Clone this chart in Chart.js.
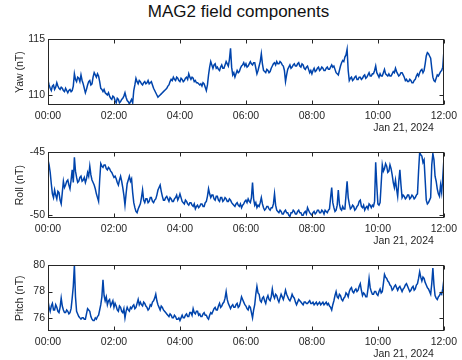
<!DOCTYPE html>
<html>
<head>
<meta charset="utf-8">
<script src="https://cdn.jsdelivr.net/npm/chart.js@4.4.1/dist/chart.umd.min.js"></script>
<style>
  html, body { margin: 0; padding: 0; background: #fff; width: 462px; height: 360px; overflow: hidden; }
  #title { position: absolute; left: 238.5px; top: 2px; transform: translateX(-50%); white-space: nowrap;
           font: 17px "Liberation Sans", Arial, sans-serif; color: #111; }
  canvas { position: absolute; left: 0; }
</style>
</head>
<body>
<div id="title">MAG2 field components</div>
<canvas id="c1" width="462" height="106" style="top:30px"></canvas>
<canvas id="c2" width="462" height="106" style="top:143px"></canvas>
<canvas id="c3" width="462" height="106" style="top:256px"></canvas>
<script>
// ---- data (sampled every 2 minutes, 00:00 .. 12:00; one row per hour) ----
const sampleMinutes = 2;
const timeTicks = [0, 2, 4, 6, 8, 10, 12];
const timeTickLabels = ['00:00', '02:00', '04:00', '06:00', '08:00', '10:00', '12:00'];
const dateLabel = 'Jan 21, 2024';

const yaw = [
111.3,110.9,110.6,110.4,110.8,110.9,110.5,110.7,111.1,110.8,110.6,110.5,110.7,110.6,110.4,110.3,110.6,110.4,110.2,110.4,110.5,110.3,110.4,110.8,111.9,111.4,111.2,111.6,111.5,111.2,
111.8,111.3,111.0,110.6,110.2,110.5,110.9,111.2,111.3,110.9,111.0,111.6,112.0,111.8,111.6,111.9,111.7,111.2,110.6,110.5,110.3,110.5,110.2,110.1,110.0,110.2,109.9,109.7,109.6,109.9,
109.8,109.5,109.3,109.7,109.6,109.3,109.4,109.6,109.7,109.9,110.2,109.8,109.5,109.4,109.2,109.4,109.6,109.3,110.4,110.9,111.5,111.2,111.0,111.3,111.2,111.0,110.9,111.1,111.2,111.0,
111.1,111.3,111.0,111.1,111.2,110.9,110.6,110.4,110.2,110.0,109.8,109.9,110.0,110.1,110.2,110.3,110.4,110.5,110.6,110.8,110.9,111.2,111.4,111.3,111.6,111.4,111.3,111.6,111.5,111.3,
111.2,111.5,111.4,111.2,111.3,111.5,111.6,111.4,111.9,111.6,111.4,111.6,111.5,111.2,111.3,111.1,111.1,111.0,110.9,111.0,110.8,111.1,111.0,110.7,110.4,110.9,111.8,112.5,113.0,112.7,
112.4,112.7,112.8,112.4,112.5,112.3,112.2,112.5,112.7,112.4,112.4,112.7,113.0,112.8,112.6,113.2,114.2,112.5,111.8,112.0,111.6,111.9,112.2,112.0,112.1,112.4,112.6,112.7,112.9,112.6,
112.8,112.5,112.6,112.8,113.0,112.8,112.7,112.9,112.9,112.4,111.9,112.2,112.6,113.0,113.7,112.8,112.2,112.1,112.0,112.3,112.2,112.0,112.1,112.4,112.6,112.8,112.9,112.7,113.0,112.8,
112.8,113.0,112.9,112.7,112.6,112.2,111.2,111.8,112.3,112.5,112.7,112.4,112.5,112.7,112.8,112.6,112.6,112.8,112.9,112.6,112.5,112.8,112.7,112.4,112.3,112.5,112.6,112.3,112.0,112.2,
111.9,112.2,112.4,112.1,112.2,112.4,112.5,112.2,112.3,112.5,112.4,112.2,112.2,112.4,112.5,112.3,112.3,112.5,112.7,112.5,112.6,112.3,112.0,111.9,111.8,112.2,112.6,112.9,113.1,113.0,
113.4,113.6,114.1,112.2,111.3,111.5,111.6,111.3,111.4,111.6,111.7,111.4,111.4,111.6,111.6,111.4,111.5,111.7,111.8,111.5,111.6,111.8,112.0,111.7,111.7,111.9,111.9,112.2,112.6,112.0,
111.8,111.6,111.9,111.7,111.7,112.0,112.3,111.9,111.8,111.7,111.9,111.7,111.7,111.9,112.1,112.0,112.4,112.1,111.9,111.7,111.8,112.0,112.0,111.8,111.6,111.3,111.4,111.2,111.2,111.4,
111.3,111.1,111.1,111.3,111.4,111.7,111.9,111.7,112.0,112.2,112.3,112.0,112.2,112.8,113.5,113.8,113.7,113.5,113.3,112.4,111.6,111.3,111.2,111.5,111.8,111.7,111.9,112.1,112.2,112.5,
113.9];

const roll = [
-45.6,-46.0,-46.6,-47.5,-48.3,-48.6,-48.0,-48.4,-48.7,-48.1,-48.2,-48.8,-49.1,-48.2,-47.3,-47.8,-47.6,-47.3,-47.2,-47.6,-47.9,-47.2,-46.4,-47.4,-45.4,-46.5,-47.0,-47.4,-47.3,-47.0,
-46.9,-47.3,-47.2,-47.0,-47.4,-47.1,-46.6,-46.9,-46.1,-46.8,-47.2,-47.4,-47.6,-47.9,-48.3,-48.6,-48.9,-47.2,-45.9,-46.1,-46.2,-46.0,-46.0,-46.3,-46.4,-46.2,-46.3,-46.5,-46.6,-46.8,
-47.0,-46.9,-47.1,-47.4,-47.6,-47.2,-46.9,-47.3,-47.8,-48.4,-49.2,-48.3,-47.5,-47.2,-46.9,-47.3,-47.1,-48.2,-49.0,-49.4,-49.7,-49.8,-49.5,-49.3,-49.1,-48.6,-48.0,-48.8,-49.0,-48.7,
-48.7,-49.0,-48.9,-48.6,-48.6,-48.9,-49.0,-48.8,-48.7,-48.4,-48.0,-47.8,-47.6,-48.1,-48.5,-48.8,-48.8,-48.6,-48.5,-48.7,-48.9,-48.6,-48.7,-48.9,-48.9,-48.7,-48.6,-48.4,-48.8,-48.6,
-48.3,-48.6,-48.9,-49.0,-49.1,-48.8,-48.9,-49.1,-49.2,-49.0,-49.0,-49.2,-49.3,-49.1,-49.5,-49.3,-49.2,-49.4,-49.3,-49.1,-49.1,-49.3,-49.3,-49.0,-48.9,-48.5,-47.9,-48.3,-48.6,-48.4,
-48.4,-48.7,-48.8,-48.5,-48.5,-48.8,-48.9,-48.6,-48.6,-48.9,-48.8,-48.6,-48.7,-48.9,-48.9,-48.7,-48.8,-49.0,-49.1,-49.2,-49.3,-49.1,-49.0,-49.2,-49.3,-49.1,-49.4,-49.2,-49.1,-48.9,
-48.8,-49.0,-48.7,-48.9,-49.0,-48.6,-47.4,-48.7,-49.2,-49.0,-49.4,-49.2,-49.3,-49.0,-48.6,-49.1,-49.4,-49.6,-49.5,-49.3,-49.3,-49.5,-49.6,-49.4,-49.4,-49.1,-48.3,-49.2,-49.6,-49.7,
-49.8,-49.6,-49.7,-49.9,-49.9,-49.7,-49.6,-49.8,-49.8,-50.0,-50.1,-49.8,-49.8,-49.6,-49.7,-49.9,-49.9,-49.7,-49.6,-49.8,-49.8,-50.0,-50.0,-49.8,-49.7,-49.9,-49.4,-49.6,-49.8,-49.9,
-50.0,-49.8,-49.7,-49.9,-49.8,-49.6,-49.6,-49.8,-49.8,-49.6,-49.7,-49.9,-49.6,-49.7,-49.8,-49.6,-49.5,-48.6,-47.8,-49.0,-49.4,-49.7,-49.6,-49.2,-48.0,-49.1,-49.5,-49.6,-49.3,-49.5,
-49.5,-48.4,-47.3,-48.6,-49.1,-49.5,-49.4,-49.2,-49.3,-49.6,-49.5,-49.3,-49.2,-48.9,-48.8,-49.3,-49.4,-49.2,-49.6,-49.4,-49.3,-49.5,-49.1,-49.2,-49.4,-49.2,-49.3,-48.9,-45.8,-47.6,
-49.1,-49.2,-49.0,-47.5,-46.0,-46.5,-46.3,-45.9,-46.1,-46.6,-46.5,-46.0,-46.3,-46.8,-47.4,-47.8,-47.2,-47.9,-48.5,-47.3,-46.4,-47.6,-48.6,-48.4,-48.5,-48.7,-48.6,-48.4,-48.4,-48.7,
-48.6,-48.4,-48.5,-48.7,-48.6,-48.4,-48.3,-46.5,-45.0,-45.2,-45.3,-45.8,-45.6,-47.2,-48.8,-49.1,-49.0,-48.8,-48.6,-46.0,-45.1,-45.6,-46.9,-47.3,-47.9,-48.3,-48.5,-47.6,-48.2,-47.0,
-45.6];

const pitch = [
77.3,76.8,76.5,76.9,77.1,76.6,76.6,77.0,76.8,76.5,76.4,76.8,77.5,76.9,76.6,76.4,76.4,76.6,76.5,76.3,76.4,76.7,77.5,78.4,80.0,77.6,76.5,76.3,76.1,76.0,
75.9,76.0,76.0,75.9,75.9,76.3,76.7,76.6,76.5,76.1,75.9,75.8,75.8,76.0,75.9,76.1,76.2,76.6,77.0,77.6,78.9,77.7,77.3,77.6,77.0,77.3,77.4,76.9,77.1,77.3,
76.8,77.1,76.9,76.6,76.5,76.9,76.8,76.5,76.4,76.7,76.0,76.5,76.8,76.6,76.5,76.8,76.7,76.9,77.0,76.7,76.8,77.1,77.4,77.0,77.2,77.0,76.9,77.2,77.1,76.9,
76.8,76.6,76.7,77.0,76.9,77.2,77.3,77.5,77.8,77.3,77.0,76.8,76.6,76.9,76.8,76.6,76.5,76.4,76.3,76.2,76.1,76.3,76.2,76.0,76.0,76.2,76.1,75.9,75.9,76.0,
75.8,76.0,76.2,76.0,76.0,76.2,76.3,76.1,76.1,76.4,76.4,76.2,76.7,76.4,76.3,76.5,76.5,76.2,76.3,76.1,76.1,76.3,76.4,76.2,76.2,76.0,75.9,76.2,76.4,76.3,
76.5,76.7,76.8,76.6,76.6,76.9,77.1,76.8,76.9,77.1,77.2,77.5,78.0,77.4,77.1,76.9,76.7,76.9,77.0,76.8,76.8,77.0,77.1,76.8,76.9,77.2,77.6,77.4,77.2,77.0,
76.9,76.7,76.6,76.9,76.8,76.4,76.0,76.6,77.0,77.8,78.4,77.9,77.8,77.3,77.2,77.5,77.6,77.3,77.1,77.5,77.7,77.4,77.3,77.6,78.2,77.7,77.5,77.8,77.7,77.4,
77.2,77.5,77.8,77.6,77.4,77.7,78.1,77.8,77.6,77.4,77.3,77.5,77.8,77.6,77.5,77.2,77.0,77.2,77.4,77.3,77.2,77.1,77.0,77.2,77.2,77.1,77.1,77.2,77.3,77.1,
77.1,77.2,77.0,77.1,77.2,77.0,77.1,77.2,77.0,77.1,77.2,77.0,77.1,77.2,77.0,77.1,76.9,76.8,76.6,77.0,77.3,77.7,78.0,77.6,77.5,77.8,77.7,77.4,77.3,77.5,
77.6,77.9,77.8,77.6,78.0,78.2,78.3,78.0,77.9,78.1,78.2,78.0,78.1,78.4,78.6,78.1,77.7,77.9,77.8,77.6,77.6,78.2,79.0,78.3,78.0,77.8,77.8,78.0,78.0,77.8,
77.7,78.0,78.2,77.9,78.0,78.6,79.3,79.1,79.0,78.8,78.7,78.5,78.4,78.1,78.2,78.4,78.5,78.3,78.1,78.3,78.4,78.2,78.0,78.2,78.3,78.5,78.6,78.4,78.2,78.0,
78.1,78.3,78.4,78.1,78.2,78.5,78.6,79.0,79.5,79.1,78.8,79.1,79.0,78.7,78.5,78.3,78.2,78.0,77.8,78.6,79.8,78.5,77.7,77.5,77.4,77.6,77.7,77.9,77.8,78.2,
78.9];

const yawTicks = [110, 115];
const rollTicks = [-50, -45];
const pitchTicks = [76, 78, 80];

// ---- drawing ----
const FONT = '"Liberation Sans", Arial, sans-serif';
const INK = '#262626';
const LINE = 'rgb(0,68,172)';

const boxTicks = {
  id: 'boxTicks',
  afterDraw(chart, args, opts) {
    const { ctx, chartArea: a, scales: { x, y } } = chart;
    ctx.save();
    ctx.strokeStyle = INK;
    ctx.lineWidth = 1;
    const L = Math.round(a.left) + 0.5, R = Math.round(a.right) - 0.5;
    const T = Math.round(a.top) + 0.5, B = Math.round(a.bottom) - 0.5;
    ctx.strokeRect(L, T, R - L, B - T);
    ctx.beginPath();
    x.ticks.forEach(t => {
      const px = Math.round(x.getPixelForValue(t.value)) + 0.5;
      ctx.moveTo(px, B); ctx.lineTo(px, B - 4);
      ctx.moveTo(px, T); ctx.lineTo(px, T + 4);
    });
    y.ticks.forEach(t => {
      const py = Math.round(y.getPixelForValue(t.value)) + 0.5;
      ctx.moveTo(L, py); ctx.lineTo(L + 4, py);
      ctx.moveTo(R, py); ctx.lineTo(R - 4, py);
    });
    ctx.stroke();
    ctx.fillStyle = INK;
    ctx.font = '10.5px ' + FONT;
    ctx.textAlign = 'right';
    ctx.textBaseline = 'middle';
    ctx.fillText(dateLabel, a.right - 10, a.bottom + 23.5);
    ctx.translate(20.5, (a.top + a.bottom) / 2);
    ctx.rotate(-Math.PI / 2);
    ctx.textAlign = 'center';
    ctx.fillText(opts.label, 0, 0);
    ctx.restore();
  }
};

function makeChart(id, values, yMin, yMax, yTicks, label) {
  const pts = values.map((v, i) => ({ x: i * sampleMinutes / 60, y: v }));
  return new Chart(document.getElementById(id), {
    type: 'line',
    data: { datasets: [{ data: pts, borderColor: LINE, borderWidth: 1.5, pointRadius: 0, tension: 0, fill: false }] },
    options: {
      responsive: false,
      animation: false,
      devicePixelRatio: 1,
      layout: { padding: { top: 5, right: 15, left: 0, bottom: 0 } },
      plugins: { legend: { display: false }, tooltip: { enabled: false }, boxTicks: { label } },
      scales: {
        x: {
          type: 'linear', min: 0, max: 12,
          grid: { display: false, drawTicks: false }, border: { display: false },
          afterBuildTicks: s => { s.ticks = timeTicks.map(v => ({ value: v })); },
          afterFit: s => { s.height = 31; },
          ticks: {
            autoSkip: false, maxRotation: 0, padding: 5, color: INK,
            font: { family: FONT, size: 10.5 },
            callback: (v) => timeTickLabels[timeTicks.indexOf(v)]
          }
        },
        y: {
          min: yMin, max: yMax,
          grid: { display: false, drawTicks: false }, border: { display: false },
          afterBuildTicks: s => { s.ticks = yTicks.map(v => ({ value: v })); },
          afterFit: s => { s.width = 48; },
          ticks: { padding: 3, color: INK, font: { family: FONT, size: 10.5 } }
        }
      }
    },
    plugins: [boxTicks]
  });
}

makeChart('c1', yaw, 109.1, 115, yawTicks, 'Yaw (nT)');
makeChart('c2', roll, -50.22, -45, rollTicks, 'Roll (nT)');
makeChart('c3', pitch, 75, 80, pitchTicks, 'Pitch (nT)');
</script>
</body>
</html>
